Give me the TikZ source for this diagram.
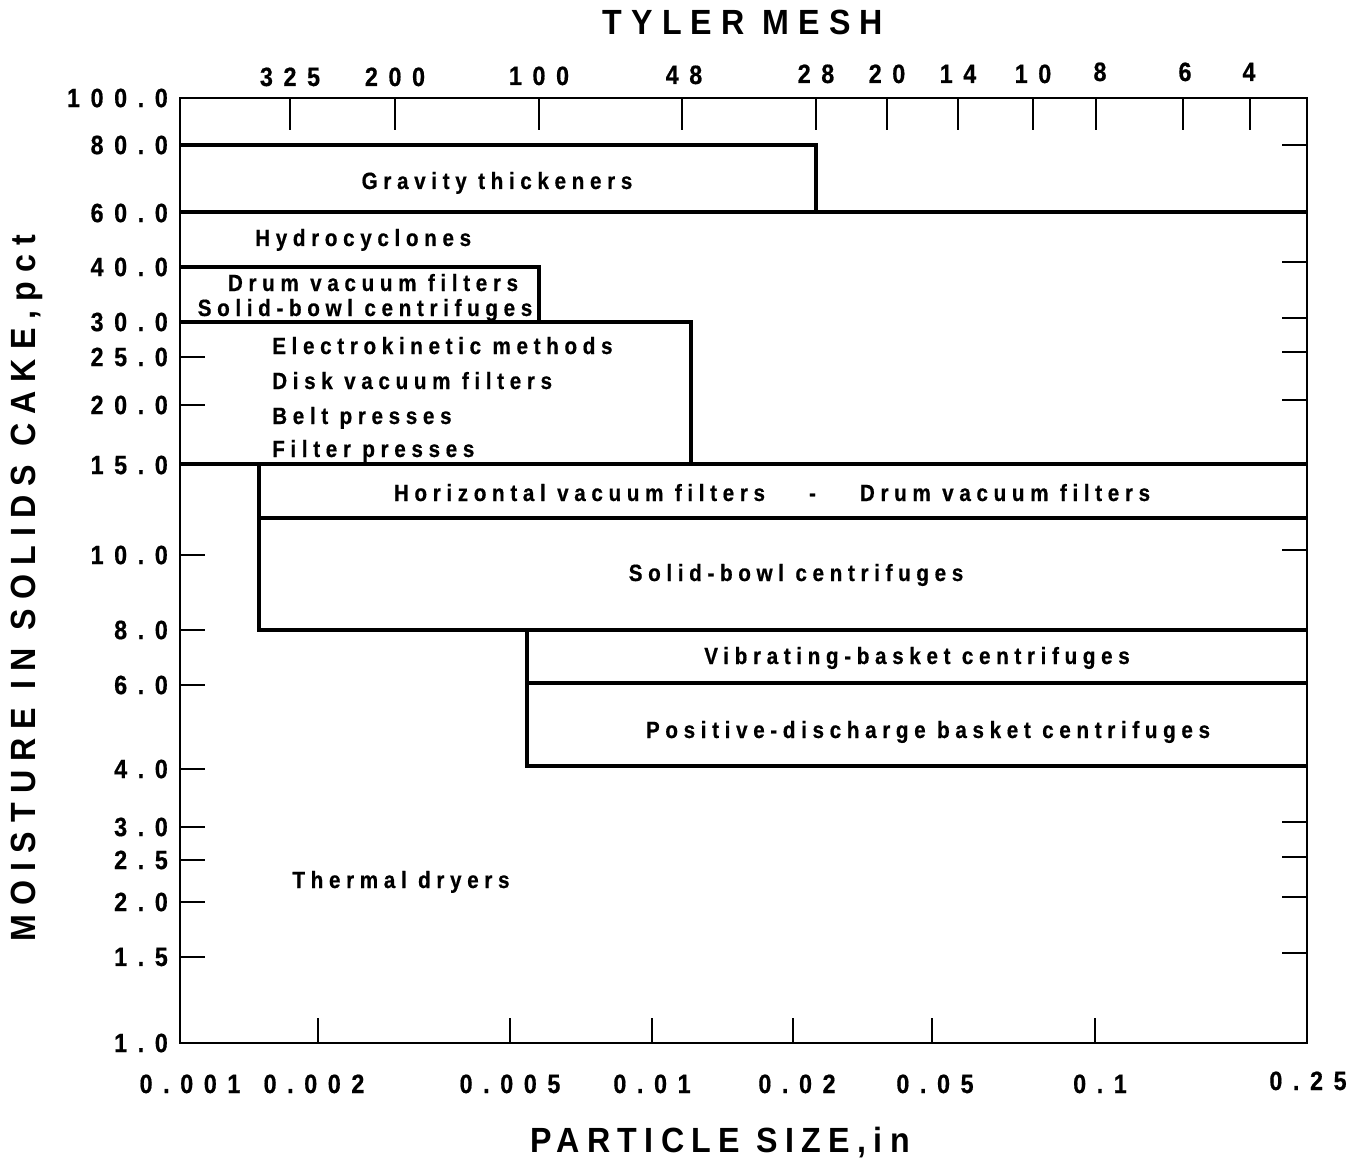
\documentclass[tikz,border=0pt]{standalone}
\usepackage{fontspec}
\setmainfont{Liberation Sans}
\newfontfamily\zonefont[LetterSpace=24,FakeBold=0.6,FakeStretch=0.88]{Liberation Sans}
\newfontfamily\numfont[LetterSpace=40,FakeBold=0.6,FakeStretch=0.88]{Liberation Sans}
\newfontfamily\titlefont[LetterSpace=21,FakeStretch=0.92]{Liberation Sans}
\newfontfamily\widetitlefont[LetterSpace=26,FakeStretch=0.92]{Liberation Sans}

\begin{document}
\begin{tikzpicture}[
    x=1pt, y=-1pt,
    frame/.style={line width=2.6pt},
    zone/.style={line width=3.6pt},
    tickmark/.style={line width=2.2pt},
    zonelabel/.style={font=\zonefont\bfseries\fontsize{23.5}{25}\selectfont, inner sep=0pt},
    numlabel/.style={font=\numfont\bfseries\fontsize{26.5}{28}\selectfont, inner sep=0pt},
    axistitle/.style={font=\titlefont\bfseries\fontsize{35}{37}\selectfont, inner sep=0pt},
    wideaxistitle/.style={font=\widetitlefont\bfseries\fontsize{35}{37}\selectfont, inner sep=0pt}
]
\useasboundingbox (0,0) rectangle (1364,1158);

% -------- frame and axis titles --------
\draw[frame] (180,98) rectangle (1307,1043);
\node[wideaxistitle, anchor=base] (tyler) at (743,35) {TYLER MESH};
\node[axistitle, anchor=base] (psize) at (720,1152) {PARTICLE SIZE,in};
\node[wideaxistitle, anchor=base, rotate=90] (moist) at (35,588) {MOISTURE IN SOLIDS CAKE,pct};

% -------- moisture axis (pixel positions) --------
\foreach \v/\yy [count=\k] in {100.0/98,80.0/145,60.0/213,40.0/267,30.0/322,25.0/357,20.0/405,15.0/465,10.0/555,8.0/630,6.0/685,4.0/769,3.0/827,2.5/860,2.0/902,1.5/957,1.0/1043}{
    \node[numlabel, anchor=east] (ylab\k) at (168,\yy) {\v};
}
\foreach \yy in {357,405,555,630,685,769,827,860,902,957}{
    \draw[tickmark] (180,\yy) -- (205,\yy);
}
\foreach \yy in {145,262,318,352,400,550,822,857,897,953}{
    \draw[tickmark] (1282,\yy) -- (1307,\yy);
}

% -------- Tyler mesh (top) --------
\foreach \m/\xx/\yy [count=\k] in {325/290/86,200/395/86,100/539/85,48/684/84,28/816/83,20/887/83,14/958/83,10/1033/83,8/1100/81,6/1185/81,4/1249/81}{
    \node[numlabel, anchor=base] (mesh\k) at (\xx,\yy) {\m};
}
\foreach \xx in {290,395,539,682,816,887,958,1033,1096,1183,1250}{
    \draw[tickmark] (\xx,98) -- (\xx,130);
}

% -------- particle size (bottom) --------
\foreach \s/\xx/\yy [count=\k] in {0.001/190/1093,0.002/314/1093,0.005/510/1093,0.01/652/1093,0.02/797/1093,0.05/935/1093,0.1/1100/1093,0.25/1308/1090}{
    \node[numlabel, anchor=base] (xlab\k) at (\xx,\yy) {\s};
}
\foreach \xx in {318,510,652,793,932,1095}{
    \draw[tickmark] (\xx,1043) -- (\xx,1018);
}

% -------- dewatering ranges --------
\draw[zone] (180,145) -| (816,212);
\draw[zone] (180,212) -- (1307,212);
\draw[zone] (180,267) -| (539,322);
\draw[zone] (180,322) -| (691,464);
\draw[zone] (180,464) -- (1307,464);
\draw[zone] (1307,518) -- (259,518);
\draw[zone] (259,464) |- (1307,630);
\draw[zone] (527,630) |- (1307,766);
\draw[zone] (527,683) -- (1307,683);

% -------- range labels --------
\node[zonelabel, anchor=base] (gravity) at (497,189) {Gravity thickeners};
\node[zonelabel, anchor=base west] (hydro) at (255,246) {Hydrocyclones};
\node[zonelabel, anchor=base] (drum) at (373,291) {Drum vacuum filters};
\node[zonelabel, anchor=base] (bowlA) at (365,316) {Solid-bowl centrifuges};
\node[zonelabel, anchor=base west] (electro) at (272,354) {Electrokinetic methods};
\node[zonelabel, anchor=base west] (disk) at (272,389) {Disk vacuum filters};
\node[zonelabel, anchor=base west] (belt) at (272,424) {Belt presses};
\node[zonelabel, anchor=base west] (filter) at (272,457) {Filter presses};
\node[zonelabel, anchor=base] (horiz) at (772,501) {Horizontal vacuum filters\hspace{44pt}-\hspace{44pt}Drum vacuum filters};
\node[zonelabel, anchor=base] (bowlB) at (796,581) {Solid-bowl centrifuges};
\node[zonelabel, anchor=base] (vibr) at (917,664) {Vibrating-basket centrifuges};
\node[zonelabel, anchor=base] (posit) at (928,738) {Positive-discharge basket centrifuges};
\node[zonelabel, anchor=base] (thermal) at (401,888) {Thermal dryers};

\end{tikzpicture}
\end{document}
